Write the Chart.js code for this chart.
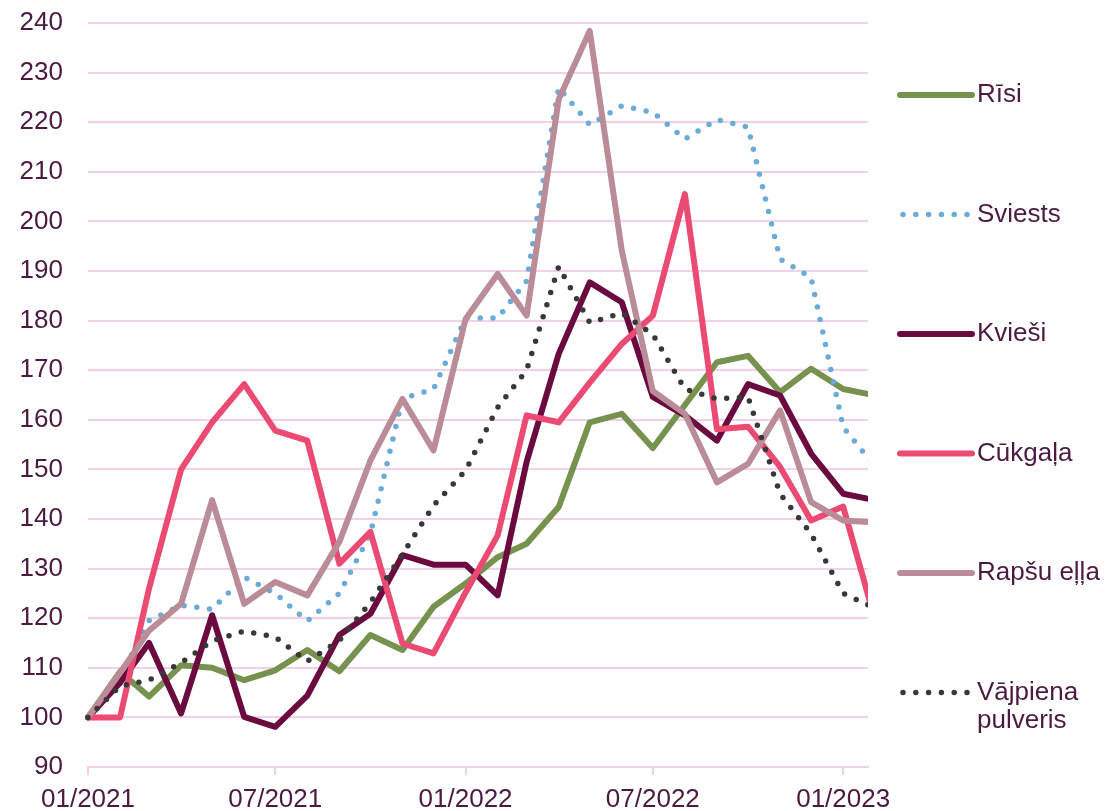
<!DOCTYPE html>
<html lang="lv">
<head>
<meta charset="utf-8">
<title>Cenu indeksi</title>
<script src="https://cdn.jsdelivr.net/npm/chart.js@4/dist/chart.umd.min.js"></script>
<style>
    html, body { margin: 0; padding: 0; background: #ffffff; }
    #chart { display: block; }
</style>
</head>
<body>
<canvas id="chart" width="1109" height="811"></canvas>
<script>
// ---- Data (index, 01/2021 = 100) ----

const months = [
    '2021-01', '2021-02', '2021-03', '2021-04', '2021-05', '2021-06',
    '2021-07', '2021-08', '2021-09', '2021-10', '2021-11', '2021-12',
    '2022-01', '2022-02', '2022-03', '2022-04', '2022-05', '2022-06',
    '2022-07', '2022-08', '2022-09', '2022-10', '2022-11', '2022-12',
    '2023-01', '2023-02',
];
const axisStart = '2021-01-01';
const axisEnd = '2023-01-25';
const xTickMonths = ['2021-01', '2021-07', '2022-01', '2022-07', '2023-01'];
const xTickLabels = ['01/2021', '07/2021', '01/2022', '07/2022', '01/2023'];
const yMin = 90;
const yMax = 240;
const yStep = 10;

const risi = [100, 109.2, 104.2, 110.5, 110, 107.5, 109.5, 113.6, 109.3, 116.6, 113.6, 122.3,
    127, 132.3, 135, 142.4, 159.5, 161.2, 154.3, 163, 171.6, 172.9, 165.6, 170.3, 166.2, 164.9];
const sviests = [100, 108, 119.5, 122.6, 121.8, 128.3, 125, 119.4, 125, 137, 164.3, 166.2,
    180.5, 180.5, 188, 227, 219.5, 223.3, 222, 216.6, 220.5, 219, 192.4, 188.7, 158.5, 150.5];
const kviesi = [100, 107, 115, 100.8, 120.6, 100.1, 98.1, 104.4, 116.6, 120.9, 132.7, 130.8,
    130.8, 124.6, 151.5, 173.3, 187.7, 183.7, 164.6, 160.9, 155.8, 167.2, 164.9, 153.2, 145.1, 143.8];
const cukgala = [100, 100, 126, 150, 159.5, 167.2, 157.8, 155.8, 131, 137.4, 114.9, 112.9,
    125.2, 136.7, 160.9, 159.5, 167.5, 175.3, 181, 205.5, 158.1, 158.6, 150.5, 139.7, 142.5, 119.5];
const rapsuElla = [100, 109, 117.5, 122.9, 143.8, 122.9, 127.3, 124.6, 135.4, 151.8, 164.2, 153.8,
    180.3, 189.4, 181, 224.6, 238.4, 194.1, 165.8, 161.2, 147.4, 151.1, 161.9, 143.4, 139.7, 139.3];
const vajpiena = [100, 106.3, 107.5, 111, 115.4, 117.4, 116.2, 111.3, 115.5, 123.2, 132.9, 142.7,
    149.8, 162.5, 170, 190.9, 179.6, 181.5, 177.2, 166.2, 164.2, 164.6, 145.1, 137, 125, 122];

const seriesNames = ['Rīsi', 'Sviests', 'Kvieši', 'Cūkgaļa', 'Rapšu eļļa', 'Vājpiena pulveris'];
const legendLines = [['Rīsi'], ['Sviests'], ['Kvieši'], ['Cūkgaļa'], ['Rapšu eļļa'], ['Vājpiena', 'pulveris']];

// ---- Styling ----

const TEXT_COLOUR = '#4b1a40';
const GRID_COLOUR = '#f3d0e8';
const FONT_FAMILY = '"Liberation Sans", Arial, sans-serif';
const FONT_SIZE = 26;
const DOT_DASH = [0, 12.8];

const styles = [
    { color: '#77924f', dash: [], width: 6 },
    { color: '#6aabd8', dash: DOT_DASH, width: 5.5 },
    { color: '#6b0a3f', dash: [], width: 6 },
    { color: '#eb4a72', dash: [], width: 6 },
    { color: '#ba8c97', dash: [], width: 6 },
    { color: '#383838', dash: DOT_DASH, width: 5.5 },
];

function dayOf(str) {
    const parts = str.split('-').map(Number);
    const [y0, m0, d0] = axisStart.split('-').map(Number);
    return (Date.UTC(parts[0], parts[1] - 1, parts[2] || 1) - Date.UTC(y0, m0 - 1, d0)) / 86400000;
}

const xDays = months.map(dayOf);
const seriesValues = [risi, sviests, kviesi, cukgala, rapsuElla, vajpiena];

const datasets = seriesValues.map((values, i) => ({
    label: seriesNames[i],
    data: values.map((v, k) => ({ x: xDays[k], y: v })),
    borderColor: styles[i].color,
    backgroundColor: styles[i].color,
    borderWidth: styles[i].width,
    borderDash: styles[i].dash,
    borderCapStyle: 'round',
    borderJoinStyle: 'round',
    pointRadius: 0,
    tension: 0,
    // later series sit on top, as in the source chart
    order: seriesValues.length - i,
    clip: { left: 5, top: 5, right: 0, bottom: 5 },
}));

// ---- Legend drawn on the right-hand side ----

const sideLegend = {
    id: 'sideLegend',
    afterDraw(chart) {
        const ctx = chart.ctx;
        const x0 = 900;
        const x1 = 972;
        const textX = 977;
        const firstY = 95;
        const stepY = 119.5;
        ctx.save();
        ctx.font = `${FONT_SIZE}px ${FONT_FAMILY}`;
        ctx.textBaseline = 'middle';
        ctx.textAlign = 'left';
        datasets.forEach((ds, i) => {
            const y = firstY + i * stepY;
            ctx.beginPath();
            ctx.strokeStyle = ds.borderColor;
            ctx.lineWidth = ds.borderWidth;
            ctx.lineCap = 'round';
            ctx.setLineDash(ds.borderDash);
            const dotted = ds.borderDash.length > 0;
            ctx.moveTo(dotted ? x0 + 3 : x0, y);
            ctx.lineTo(dotted ? x1 - 4 : x1, y);
            ctx.stroke();
            ctx.setLineDash([]);
            ctx.fillStyle = TEXT_COLOUR;
            legendLines[i].forEach((line, j) => {
                ctx.fillText(line, textX, y + j * 28);
            });
        });
        ctx.restore();
    },
};

new Chart(document.getElementById('chart').getContext('2d'), {
    type: 'line',
    data: { datasets },
    plugins: [sideLegend],
    options: {
        responsive: false,
        animation: false,
        parsing: false,
        layout: { padding: { left: 0, top: 23, right: 241, bottom: 0 } },
        plugins: {
            legend: { display: false },
            tooltip: { enabled: false },
        },
        scales: {
            x: {
                type: 'linear',
                min: 0,
                max: dayOf(axisEnd),
                afterBuildTicks: (scale) => {
                    scale.ticks = xTickMonths.map((m) => ({ value: dayOf(m) }));
                },
                afterFit: (scale) => { scale.height = 44; },
                ticks: {
                    autoSkip: false,
                    maxRotation: 0,
                    padding: 9,
                    color: TEXT_COLOUR,
                    font: { family: FONT_FAMILY, size: FONT_SIZE },
                    callback: (value, index) => xTickLabels[index],
                },
                grid: {
                    drawOnChartArea: false,
                    drawTicks: true,
                    tickLength: 8,
                    color: GRID_COLOUR,
                    lineWidth: 2,
                },
                border: { display: true, color: GRID_COLOUR, width: 2 },
            },
            y: {
                min: yMin,
                max: yMax,
                afterFit: (scale) => {
                    scale.width = 88;
                    // label padding should not push the plot area down
                    scale.paddingTop = 15;
                    scale.paddingBottom = 0;
                },
                ticks: {
                    stepSize: yStep,
                    padding: 25,
                    color: TEXT_COLOUR,
                    font: { family: FONT_FAMILY, size: FONT_SIZE },
                },
                grid: {
                    drawTicks: false,
                    color: GRID_COLOUR,
                    lineWidth: 2,
                },
                border: { display: false },
            },
        },
    },
});
</script>
</body>
</html>
